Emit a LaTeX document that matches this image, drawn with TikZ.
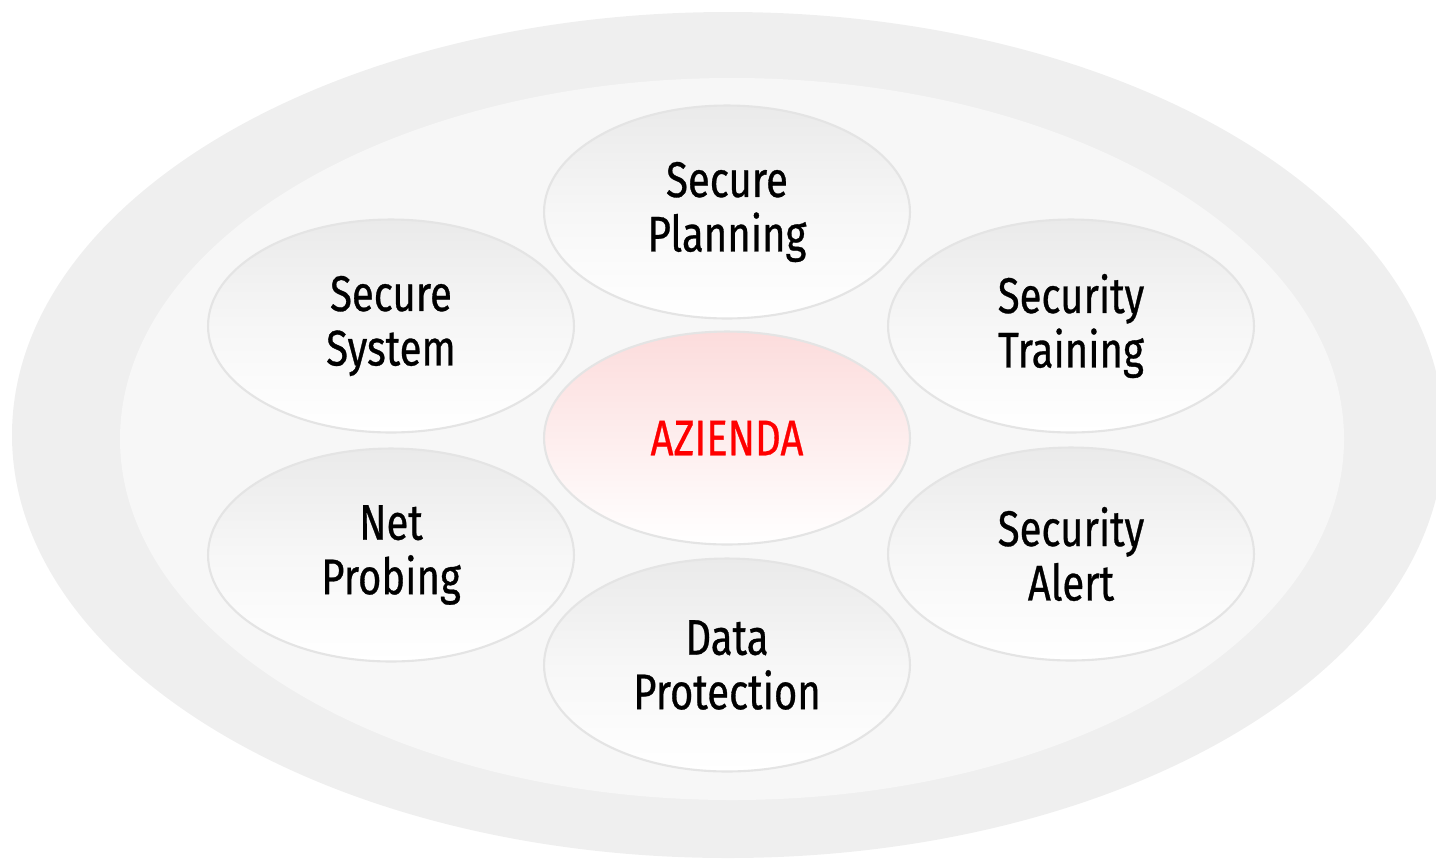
\documentclass[tikz,border=0pt]{standalone}
\usepackage{fontspec}
\setmainfont{Fira Sans}[FakeStretch=0.8]
\usepackage{tikz}
\usetikzlibrary{shapes.geometric, positioning}

\definecolor{ringgray}{HTML}{EFEFEF}
\definecolor{innergray}{HTML}{F7F7F7}
\definecolor{edgegray}{HTML}{E4E4E4}
\definecolor{topgray}{HTML}{EAEAEA}
\definecolor{toppink}{HTML}{FCDCDC}

\begin{document}
\begin{tikzpicture}[
    x=0.02cm, y=-0.02cm,
    topic/.style={ellipse, draw=edgegray, line width=1.2pt, top color=topgray, bottom color=white, middle color=white!60!topgray, minimum width=7.32cm, minimum height=4.26cm, align=center, font=\fontsize{28.5}{31}\selectfont\addfontfeature{FakeBold=0.6}, inner sep=0pt},
    core/.style={topic, top color=toppink, middle color=white!50!toppink, bottom color=white, text=red},
]
\useasboundingbox (0,0) rectangle (1436,860);

% background rings
\fill[ringgray] (728,435) ellipse [x radius=716, y radius=423];
\fill[innergray] (732,439) ellipse [x radius=612, y radius=361];

\node[core] (azienda) at (727,438) {AZIENDA};
\node[topic] (planning) at (727,212) {Secure\\Planning};
\node[topic] (protection) at (727,665) {Data\\Protection};
\node[topic] (system) at (391,326) {Secure\\System};
\node[topic] (probing) at (391,555) {Net\\Probing};
\node[topic] (training) at (1071,326) {Security\\Training};
\node[topic] (alert) at (1071,554) {Security\\Alert};

\end{tikzpicture}
\end{document}
